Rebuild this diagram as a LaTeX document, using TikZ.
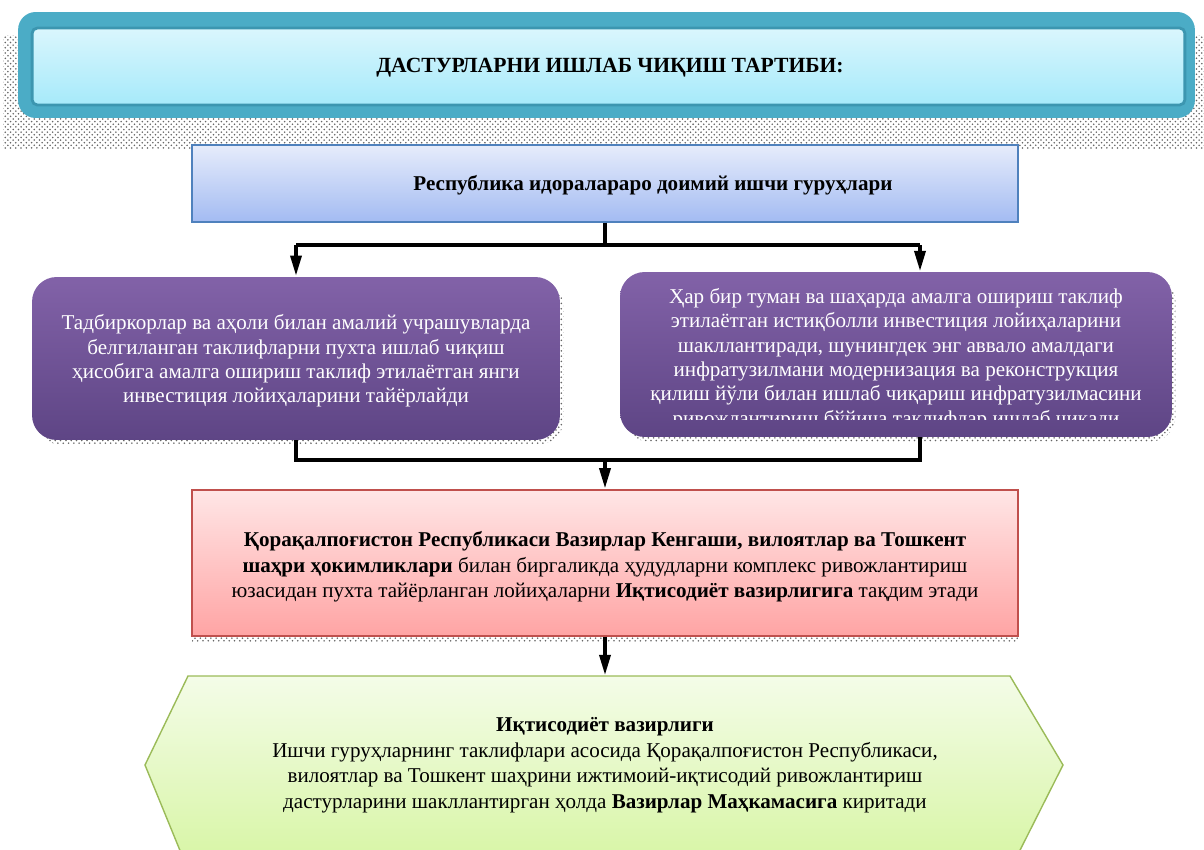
\documentclass[tikz,border=0pt]{standalone}
\usepackage{fontspec}
\setmainfont{Liberation Serif}
\usetikzlibrary{arrows.meta,patterns,shadows,calc}

\definecolor{tealout}{HTML}{4BACC6}
\definecolor{tealline}{HTML}{3C96B0}
\definecolor{cyantop}{HTML}{DAF6FD}
\definecolor{cyanbot}{HTML}{A6EAFA}
\definecolor{bluetop}{HTML}{E6ECFB}
\definecolor{bluebot}{HTML}{A3BBF2}
\definecolor{blueline}{HTML}{4F81BD}
\definecolor{purtop}{HTML}{8262A8}
\definecolor{purbot}{HTML}{5E4585}
\definecolor{redtop}{HTML}{FFE6E6}
\definecolor{redbot}{HTML}{FFA4A4}
\definecolor{redline}{HTML}{C0504D}
\definecolor{grntop}{HTML}{F4FCE8}
\definecolor{grnbot}{HTML}{D6F5A2}
\definecolor{grnline}{HTML}{9BBB59}

\tikzset{
  dotshade/.style={pattern=crosshatch dots,pattern color=black!60},
  txt/.style={font=\fontsize{12}{13.9}\selectfont,align=center,inner sep=0pt},
}

\begin{document}
\begin{tikzpicture}[x=0.02cm,y=-0.02cm,
    conn/.style={line width=2.5pt},
    arr/.style={conn,-{Triangle[length=12pt,width=6pt]}},
    groupbox/.style={draw=blueline,line width=0.8pt,top color=bluetop,bottom color=bluebot,
      minimum width=16.52cm,minimum height=1.54cm},
    purplebox/.style={rounded corners=14pt,top color=purtop,bottom color=purbot,
      general shadow={dotshade,shadow xshift=2pt,shadow yshift=-2.5pt},minimum height=3.3cm},
    redbox/.style={draw=redline,line width=0.8pt,top color=redtop,bottom color=redbot,
      general shadow={dotshade,shadow xshift=0pt,shadow yshift=-3pt},
      minimum width=16.52cm,minimum height=2.92cm}]
  \useasboundingbox (0,0) rectangle (1204,849);
  \clip (0,0) rectangle (1204,849);

  % Title
  \fill[dotshade] (3,35) rectangle (1204,148);
  \node[fill=tealout,rounded corners=10pt,minimum width=23.54cm,minimum height=2.12cm] (ttlout) at (606.5,65) {};
  \node[draw=tealline,line width=1.6pt,rounded corners=3pt,top color=cyantop,bottom color=cyanbot,
    minimum width=23.06cm,minimum height=1.54cm] (ttl) at (608.5,66.5) {};
  \node[txt,font=\fontsize{12.3}{14}\selectfont\bfseries] (ttltxt) at (610,68) {ДАСТУРЛАРНИ ИШЛАБ ЧИҚИШ ТАРТИБИ:};

  % Working groups
  \node[groupbox] (grp) at (605,183.5) {};
  \node[txt,font=\fontsize{12}{14}\selectfont\bfseries] (grptxt) at (653,185) {Республика идоралараро доимий ишчи гуруҳлари};

  % Two purple boxes
  \node[purplebox,minimum width=10.56cm,minimum height=3.26cm] (pl) at (296,358.5) {};
  \node[txt,text=white] (pltxt) at (296,361) {Тадбиркорлар ва аҳоли билан амалий учрашувларда\\
    белгиланган таклифларни пухта ишлаб чиқиш\\
    ҳисобига амалга ошириш таклиф этилаётган янги\\
    инвестиция лойиҳаларини тайёрлайди};

  \node[purplebox,minimum width=11.04cm] (pr) at (896,354.5) {};
  \begin{scope}
    \clip (pr.north west) rectangle ($(pr.south east)+(0,-18)$);
    \node[txt,text=white] (prtxt) at (896,359) {Ҳар бир туман ва шаҳарда амалга ошириш таклиф\\
      этилаётган истиқболли инвестиция лойиҳаларини\\
      шакллантиради, шунингдек энг аввало амалдаги\\
      инфратузилмани модернизация ва реконструкция\\
      қилиш йўли билан ишлаб чиқариш инфратузилмасини\\
      ривожлантириш бўйича таклифлар ишлаб чиқади};
  \end{scope}

  \coordinate (prin) at (920,272);
  \coordinate (prout) at (920,437);
  \coordinate (bus1) at (605,245);
  \coordinate (bus2) at (605,460);

  % Upper split
  \draw[conn] (grp.south) -- (bus1);
  \draw[conn] (pl.north |- bus1) -- (prin |- bus1);
  \draw[arr] (pl.north |- bus1) -- (pl.north);
  \draw[arr] (prin |- bus1) -- (prin);

  % Council box
  \node[redbox] (cnl) at (605,563) {};
  \node[txt,font=\fontsize{12}{14.5}\selectfont] (cnltxt) at (605,567) {\textbf{Қорақалпоғистон Республикаси Вазирлар Кенгаши, вилоятлар ва Тошкент}\\
    \textbf{шаҳри ҳокимликлари} билан биргаликда ҳудудларни комплекс ривожлантириш\\
    юзасидан пухта тайёрланган лойиҳаларни \textbf{Иқтисодиёт вазирлигига} тақдим этади};

  % Lower merge
  \draw[conn] (pl.south) -- (pl.south |- bus2) -- (prout |- bus2) -- (prout);
  \draw[arr] (bus2) -- (cnl.north);

  % Ministry hexagon
  \coordinate (ecotop) at (605,676);
  \draw[grnline,line width=0.8pt,top color=grntop,bottom color=grnbot]
    (188,676) -- (1010,676) -- (1063,765) -- (1010,870) -- (188,870) -- (145,765) -- cycle;
  \node[txt,font=\fontsize{12}{14.5}\selectfont] (eco) at (605,765) {\textbf{Иқтисодиёт вазирлиги}\\
    Ишчи гуруҳларнинг таклифлари асосида Қорақалпоғистон Республикаси,\\
    вилоятлар ва Тошкент шаҳрини ижтимоий-иқтисодий ривожлантириш\\
    дастурларини шакллантирган ҳолда \textbf{Вазирлар Маҳкамасига} киритади};
  \draw[arr] (cnl.south) -- (ecotop);
\end{tikzpicture}
\end{document}
